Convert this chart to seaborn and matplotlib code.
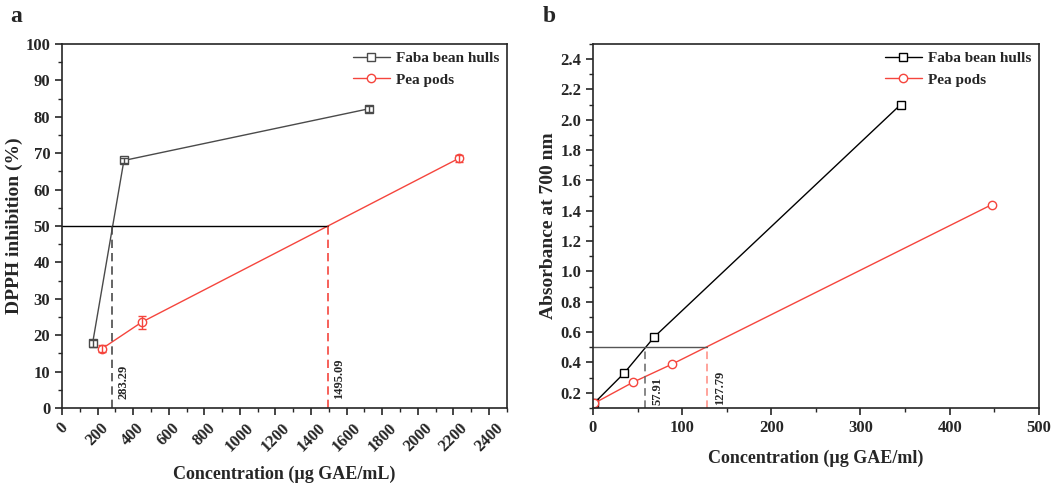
import numpy as np
import pandas as pd
import matplotlib.pyplot as plt
import seaborn as sns
from matplotlib.ticker import MultipleLocator

# dados painel a (DPPH)
dpph_faba_x = [172, 348, 1725]
dpph_faba_y = [17.8, 68.0, 82.2]
dpph_faba_err = [1.0, 0.8, 0.9]
dpph_pea_x = [225, 449, 2232]
dpph_pea_y = [16.3, 23.6, 68.6]
dpph_pea_err = [1.0, 1.8, 1.0]
ic50_faba, ic50_pea = 283.29, 1495.09

# dados painel b (poder redutor)
abs_faba_x = [1, 35, 69, 345]
abs_faba_y = [0.13, 0.33, 0.57, 2.10]
abs_pea_x = [1, 45, 89, 447]
abs_pea_y = [0.13, 0.27, 0.39, 1.44]
ec50_faba, ec50_pea = 57.91, 127.79

GRAY = '#4a4a4a'
RED = '#f5453d'

sns.set_style('ticks')
plt.rcParams['font.family'] = ['Liberation Serif', 'DejaVu Serif']
plt.rcParams['font.weight'] = 'bold'
plt.rcParams['axes.labelweight'] = 'bold'

fig = plt.figure(figsize=(10.6, 4.86), dpi=100)
ax1 = fig.add_axes([0.0585, 0.1605, 0.4195, 0.749])
ax2 = fig.add_axes([0.5594, 0.1605, 0.4206, 0.749])


def serie(ax, x, y, cor, marker, label, err=None, lw=1.0):
    df = pd.DataFrame({'x': x, 'y': y})
    sns.lineplot(data=df, x='x', y='y', ax=ax, color=cor, marker=marker, ms=6,
                 markerfacecolor='white', markeredgecolor=cor, markeredgewidth=1.0,
                 lw=lw, label=label)
    if err is not None:
        ax.errorbar(x, y, yerr=err, fmt='none', ecolor=cor, elinewidth=1, capsize=3)


# ---- painel a
serie(ax1, dpph_faba_x, dpph_faba_y, GRAY, 's', 'Faba bean hulls', dpph_faba_err)
serie(ax1, dpph_pea_x, dpph_pea_y, RED, 'o', 'Pea pods', dpph_pea_err)
ax1.plot([0, ic50_pea], [50, 50], color='black', lw=1)
ax1.plot([ic50_faba, ic50_faba], [0, 50], color=GRAY, lw=1.2, ls=(0, (5, 3)))
ax1.plot([ic50_pea, ic50_pea], [0, 50], color=RED, lw=1.2, ls=(0, (5, 3)))
ax1.text(ic50_faba + 30, 2.5, f'{ic50_faba:.2f}', rotation=90, fontsize=9, va='bottom', ha='left')
ax1.text(ic50_pea + 30, 2.5, f'{ic50_pea:.2f}', rotation=90, fontsize=9, va='bottom', ha='left')

ax1.set_xlim(0, 2500)
ax1.set_ylim(0, 100)
ax1.xaxis.set_minor_locator(MultipleLocator(100))
ax1.yaxis.set_major_locator(MultipleLocator(10))
ax1.yaxis.set_minor_locator(MultipleLocator(5))
ax1.set_xticks(np.arange(0, 2401, 200))
ax1.set_xticklabels([str(v) for v in range(0, 2401, 200)], rotation=45, ha='center')
ax1.set_xlabel('Concentration (µg GAE/mL)', fontsize=13, labelpad=8)
ax1.set_ylabel('DPPH inhibition (%)', fontsize=14, labelpad=2)

# ---- painel b
serie(ax2, abs_faba_x, abs_faba_y, 'black', 's', 'Faba bean hulls')
serie(ax2, abs_pea_x, abs_pea_y, RED, 'o', 'Pea pods')
ax2.plot([0, ec50_pea], [0.5, 0.5], color='#555555', lw=1)
ax2.plot([ec50_faba, ec50_faba], [0.1, 0.5], color='#666666', lw=1.1, ls=(0, (5, 3)))
ax2.plot([ec50_pea, ec50_pea], [0.1, 0.5], color='#ff8a80', lw=1.1, ls=(0, (5, 3)))
ax2.text(ec50_faba + 8, 0.12, f'{ec50_faba:.2f}', rotation=90, fontsize=9, va='bottom', ha='left')
ax2.text(ec50_pea + 8, 0.12, f'{ec50_pea:.2f}', rotation=90, fontsize=9, va='bottom', ha='left')

ax2.set_xlim(0, 500)
ax2.set_ylim(0.1, 2.5)
ax2.xaxis.set_major_locator(MultipleLocator(100))
ax2.xaxis.set_minor_locator(MultipleLocator(50))
ax2.set_yticks(np.arange(0.2, 2.41, 0.2))
ax2.yaxis.set_minor_locator(MultipleLocator(0.1))
ax2.yaxis.set_major_formatter(plt.FormatStrFormatter('%.1f'))
ax2.set_xlabel('Concentration (µg GAE/ml)', fontsize=13, labelpad=10)
ax2.set_ylabel('Absorbance at 700 nm', fontsize=14, labelpad=2)

for ax in (ax1, ax2):
    for s in ax.spines.values():
        s.set_linewidth(1.2)
        s.set_visible(True)
    ax.tick_params(which='major', direction='out', length=5, width=1.2, labelsize=12)
    ax.tick_params(which='minor', direction='out', length=3, width=1)
    ax.legend(loc='upper right', frameon=False, fontsize=11, handlelength=2.4,
              borderaxespad=0.1, labelspacing=0.5, handletextpad=0.4)

fig.text(10 / 1060, 1 - 17 / 486, 'a', fontsize=17, fontweight='bold', va='center')
fig.text(543 / 1060, 1 - 17 / 486, 'b', fontsize=17, fontweight='bold', va='center')

fig.savefig('out.png', dpi=100)
